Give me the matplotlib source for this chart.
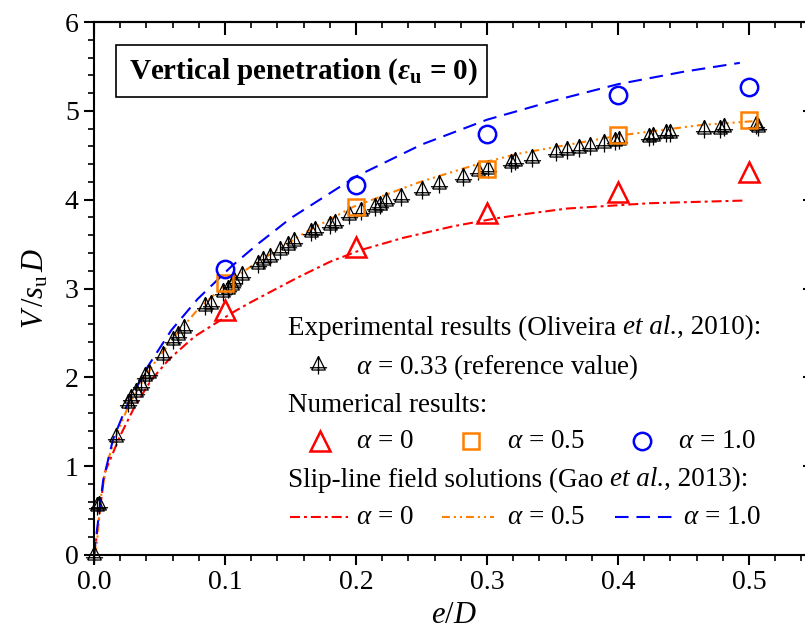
import matplotlib
matplotlib.use("Agg")
import matplotlib.pyplot as plt
from matplotlib.path import Path
from matplotlib.patches import Rectangle

plt.rcParams['font.family'] = ['Liberation Serif', 'DejaVu Serif']
plt.rcParams['mathtext.fontset'] = 'custom'
plt.rcParams['mathtext.rm'] = 'Liberation Serif'
plt.rcParams['mathtext.it'] = 'Liberation Serif:italic'
plt.rcParams['mathtext.bf'] = 'Liberation Serif:bold'
plt.rcParams['mathtext.bfit'] = 'Liberation Serif:italic:bold'

# experimental data (Oliveira et al., 2010), alpha = 0.33
exp_e = [0.0, 0.002, 0.004, 0.017, 0.026, 0.0285, 0.032, 0.036, 0.039, 0.042,
         0.053, 0.060, 0.064, 0.069, 0.0845, 0.0895, 0.0985, 0.102, 0.105, 0.107,
         0.113, 0.125, 0.129, 0.134, 0.142, 0.148, 0.153, 0.166, 0.169, 0.180,
         0.184, 0.195, 0.204, 0.2145, 0.218, 0.223, 0.234, 0.250, 0.263, 0.282,
         0.293, 0.301, 0.318, 0.321, 0.334, 0.353, 0.361, 0.370, 0.379, 0.389,
         0.398, 0.401, 0.424, 0.427, 0.437, 0.440, 0.466, 0.478, 0.481, 0.505,
         0.507]
exp_v = [0.0, 0.55, 0.56, 1.33, 1.71, 1.77, 1.84, 1.91, 2.01, 2.05,
         2.25, 2.42, 2.48, 2.56, 2.80, 2.83, 2.96, 3.00, 3.04, 3.08,
         3.15, 3.28, 3.32, 3.36, 3.43, 3.49, 3.53, 3.64, 3.66, 3.72,
         3.74, 3.83, 3.87, 3.92, 3.94, 3.98, 4.03, 4.11, 4.18, 4.26,
         4.32, 4.34, 4.41, 4.43, 4.47, 4.54, 4.56, 4.58, 4.60, 4.64,
         4.66, 4.67, 4.71, 4.72, 4.75, 4.75, 4.80, 4.80, 4.82, 4.84,
         4.82]

# numerical results
num_e = [0.1, 0.2, 0.3, 0.4, 0.5]
num_v_a0 = [2.76, 3.47, 3.85, 4.09, 4.31]
num_v_a05 = [3.06, 3.92, 4.34, 4.73, 4.90]
num_v_a1 = [3.22, 4.16, 4.74, 5.18, 5.27]

# slip-line field solutions (Gao et al., 2013)
sl_e_a0 = [0.0, 0.003, 0.008, 0.0196, 0.031, 0.0437, 0.0577, 0.0768, 0.107,
           0.119, 0.155, 0.18, 0.203, 0.236, 0.274, 0.307, 0.325, 0.361,
           0.424, 0.496]
sl_v_a0 = [0.0, 0.32, 0.92, 1.33, 1.67, 1.97, 2.21, 2.46, 2.74,
           2.84, 3.12, 3.30, 3.43, 3.57, 3.70, 3.79, 3.83, 3.90,
           3.96, 3.99]
sl_e_a05 = [0.0, 0.002, 0.0056, 0.0107, 0.0158, 0.026, 0.036, 0.046, 0.0616,
            0.079, 0.097, 0.11, 0.119, 0.160, 0.198, 0.249, 0.295, 0.325,
            0.40, 0.463, 0.50, 0.51]
sl_v_a05 = [0.0, 0.09, 0.69, 1.07, 1.30, 1.67, 1.93, 2.16, 2.46,
            2.76, 3.00, 3.15, 3.24, 3.62, 3.92, 4.20, 4.41, 4.52,
            4.72, 4.84, 4.88, 4.89]
sl_e_a1 = [0.0, 0.001, 0.007, 0.0145, 0.0247, 0.041, 0.059, 0.079, 0.105,
           0.125, 0.15, 0.2, 0.25, 0.3, 0.35, 0.4, 0.45, 0.493]
sl_v_a1 = [0.0, 0.13, 0.84, 1.30, 1.67, 2.12, 2.53, 2.88, 3.25,
           3.50, 3.79, 4.26, 4.62, 4.90, 5.11, 5.30, 5.44, 5.54]

RED = '#ff0000'
ORANGE = '#ff8000'
BLUE = '#0000ff'
DASH_RED = (4.8, 1.9, 1.4, 1.9)
DASH_ORANGE = (3.8, 1.9, 1.0, 1.9, 1.0, 1.9)
DASH_BLUE = (6.5, 3.8)

# triangle with a cross through it
tri_cross = Path(
    [(-0.75, -0.5), (0.75, -0.5), (0.0, 1.0), (-0.75, -0.5),
     (0.0, 1.0), (0.0, -1.0),
     (-0.95, -0.25), (0.95, -0.25)],
    [Path.MOVETO, Path.LINETO, Path.LINETO, Path.LINETO,
     Path.MOVETO, Path.LINETO,
     Path.MOVETO, Path.LINETO])

W, H = 805, 633
fig = plt.figure(figsize=(W / 100, H / 100), dpi=100)
ax = fig.add_axes([94 / W, 78 / H, 720.5 / W, 533 / H])


def px(x, y):
    return x / W, 1 - y / H


def rich_text(x, y, parts, **kw):
    # write pieces of text one after another, each in its own style
    renderer = fig.canvas.get_renderer()
    fx, fy = px(x, y)
    for s, style in parts:
        t = fig.text(fx, fy, s, style=style, **kw)
        fx += t.get_window_extent(renderer).width / W


# slip-line curves
ax.plot(sl_e_a0, sl_v_a0, color=RED, lw=1.5, dashes=DASH_RED)
ax.plot(sl_e_a05, sl_v_a05, color=ORANGE, lw=1.5, dashes=DASH_ORANGE)
ax.plot(sl_e_a1, sl_v_a1, color=BLUE, lw=1.5, dashes=DASH_BLUE)

# experiments
ax.plot(exp_e, exp_v, ls='none', marker=tri_cross, ms=13, mfc='none',
        mec='black', mew=0.9, clip_on=False)

# numerical results
ax.plot(num_e, num_v_a0, ls='none', marker='^', ms=15, mfc='none',
        mec=RED, mew=1.8)
ax.plot(num_e, num_v_a05, ls='none', marker='s', ms=11, mfc='none',
        mec=ORANGE, mew=1.8)
ax.plot(num_e, num_v_a1, ls='none', marker='o', ms=12.5, mfc='none',
        mec=BLUE, mew=1.8)

xt = [0.0, 0.1, 0.2, 0.3, 0.4, 0.5]
xminor = [i * 0.02 for i in range(28)]
yminor = [i * 0.2 for i in range(31)]
ax.set_xlim(0, 0.55)
ax.set_ylim(0, 6)
ax.set_xticks(xt)
ax.set_xticklabels(['0.0', '0.1', '0.2', '0.3', '0.4', '0.5'])
ax.set_xticks(xminor, minor=True)
ax.set_yticks(range(7))
ax.set_yticks(yminor, minor=True)
ax.tick_params(which='major', direction='out', length=7, width=1.5,
               labelsize=20, pad=4)
ax.tick_params(which='minor', direction='out', length=4, width=1.2)
for s in ax.spines.values():
    s.set_linewidth(1.5)

# top and right axes with inward ticks
top = ax.secondary_xaxis('top')
top.set_xticks(xt)
top.set_xticks(xminor, minor=True)
top.tick_params(which='major', direction='in', length=9, width=1.5,
                labeltop=False)
top.tick_params(which='minor', direction='in', length=4.5, width=1.2)
right = ax.secondary_yaxis('right')
right.set_yticks(range(7))
right.set_yticks(yminor, minor=True)
right.tick_params(which='major', direction='in', length=9, width=1.5,
                  labelright=False)
right.tick_params(which='minor', direction='in', length=4.5, width=1.2)
top.spines['top'].set_linewidth(1.5)
right.spines['right'].set_linewidth(1.5)

ax.set_xlabel(r'$e/D$', fontsize=22, labelpad=4)
ax.set_ylabel(r'$V\,/s_{\mathrm{u}}\,D$', fontsize=22, labelpad=10)

# title box
fig.add_artist(Rectangle(px(116, 97), 371 / W, 52 / H, fill=False,
                         lw=1.2, ec='black', transform=fig.transFigure))
fig.text(*px(303, 72),
         r'Vertical penetration ($\mathbfit{\varepsilon}_{\mathbf{u}}$ = 0)',
         fontsize=21, fontweight='bold', ha='center', va='center')

# legend
fs = 19.5
rich_text(288, 328, [('Experimental results (Oliveira ', 'normal'),
                     ('et al.', 'italic'), (', 2010):', 'normal')],
          fontsize=fs, va='center')
fig.add_artist(plt.Line2D([px(318, 0)[0]], [px(0, 365)[1]], marker=tri_cross,
                          ms=13, mfc='none', mec='black', mew=0.9, ls='none',
                          transform=fig.transFigure))
fig.text(*px(356, 367), r'$\alpha$ = 0.33 (reference value)', fontsize=fs,
         va='center')
fig.text(*px(288, 405), 'Numerical results:', fontsize=fs, va='center')
for x, m, c, ms in [(320, '^', RED, 15), (471, 's', ORANGE, 11),
                    (642, 'o', BLUE, 12.5)]:
    fig.add_artist(plt.Line2D([px(x, 0)[0]], [px(0, 441)[1]], marker=m, ms=ms,
                              mfc='none', mec=c, mew=1.8, ls='none',
                              transform=fig.transFigure))
fig.text(*px(356, 442), r'$\alpha$ = 0', fontsize=fs, va='center')
fig.text(*px(507, 442), r'$\alpha$ = 0.5', fontsize=fs, va='center')
fig.text(*px(678, 442), r'$\alpha$ = 1.0', fontsize=fs, va='center')
rich_text(288, 480, [('Slip-line field solutions (Gao ', 'normal'),
                     ('et al.', 'italic'), (', 2013):', 'normal')],
          fontsize=fs, va='center')
for x0, x1, c, d in [(290, 348, RED, DASH_RED),
                     (442, 494, ORANGE, DASH_ORANGE),
                     (615, 675, BLUE, DASH_BLUE)]:
    fig.add_artist(plt.Line2D([px(x0, 0)[0], px(x1, 0)[0]],
                              [px(0, 517)[1]] * 2, color=c, lw=1.5, dashes=d,
                              transform=fig.transFigure))
fig.text(*px(356, 518), r'$\alpha$ = 0', fontsize=fs, va='center')
fig.text(*px(507, 518), r'$\alpha$ = 0.5', fontsize=fs, va='center')
fig.text(*px(683, 518), r'$\alpha$ = 1.0', fontsize=fs, va='center')

fig.savefig('out.png', dpi=100)
